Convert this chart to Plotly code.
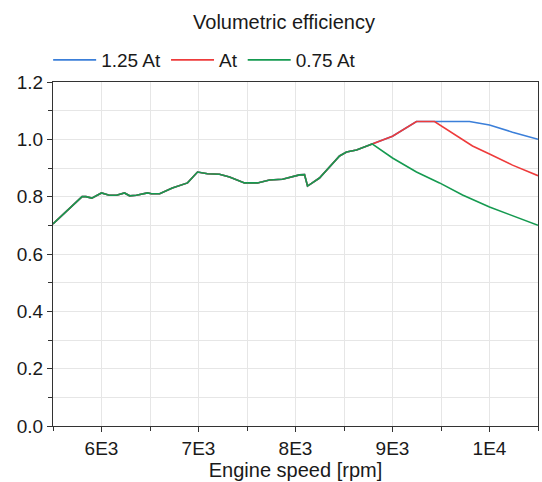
import plotly.graph_objects as go

# Shared part of the curve (all three series coincide here)
rpm_common = [5500, 5800, 5840, 5900, 6000, 6080, 6155, 6237, 6290, 6360, 6474, 6515,
              6600, 6730, 6887, 6990, 7093, 7216, 7320, 7474, 7608, 7732, 7866,
              7969, 8041, 8093, 8124, 8247, 8454, 8526, 8629, 8763, 8790]
eff_common = [0.705, 0.800, 0.800, 0.795, 0.813, 0.805, 0.805, 0.813, 0.803, 0.805, 0.813, 0.810,
              0.810, 0.830, 0.848, 0.886, 0.880, 0.878, 0.869, 0.848, 0.848, 0.858, 0.861,
              0.869, 0.876, 0.877, 0.837, 0.865, 0.942, 0.956, 0.963, 0.980, 0.984]

# 0.75 At branch after the shared part
rpm_green = [9000, 9247, 9485, 9722, 10000, 10237, 10500]
eff_green = [0.935, 0.886, 0.848, 0.806, 0.764, 0.733, 0.700]

# At branch after the shared part
rpm_red = [9000, 9124, 9247, 9433, 9619, 9825, 10000, 10237, 10500]
eff_red = [1.011, 1.036, 1.062, 1.062, 1.022, 0.977, 0.949, 0.910, 0.873]

# 1.25 At branch (follows At up to its peak)
rpm_blue = [9000, 9124, 9247, 9433, 9794, 10000, 10237, 10500]
eff_blue = [1.011, 1.036, 1.062, 1.062, 1.062, 1.050, 1.025, 1.000]

x_tickvals = [6000, 7000, 8000, 9000, 10000]
x_ticktext = ["6E3", "7E3", "8E3", "9E3", "1E4"]

fig = go.Figure()
fig.add_trace(go.Scatter(x=rpm_common + rpm_blue, y=eff_common + eff_blue, mode="lines",
                         name="1.25 At", line=dict(color="#3b7fd9", width=1.6)))
fig.add_trace(go.Scatter(x=rpm_common + rpm_red, y=eff_common + eff_red, mode="lines",
                         name="At", line=dict(color="#ee3b3b", width=1.6)))
fig.add_trace(go.Scatter(x=rpm_common + rpm_green, y=eff_common + eff_green, mode="lines",
                         name="0.75 At", line=dict(color="#159a50", width=1.6)))

font = "Liberation Sans, Arial, sans-serif"
fig.update_layout(
    width=542, height=482,
    paper_bgcolor="white", plot_bgcolor="white",
    margin=dict(l=53, r=4, t=82, b=56),
    font=dict(family=font, size=19, color="#1a1a1a"),
    title=dict(text="Volumetric efficiency", x=0.524, xanchor="center", y=0.954, yanchor="middle",
               font=dict(size=20, color="#1a1a1a")),
    legend=dict(orientation="h", x=-0.01, xanchor="left", y=1.064, yanchor="middle",
                font=dict(size=19), bgcolor="rgba(0,0,0,0)", traceorder="normal",
                itemwidth=43),
    showlegend=True,
)
fig.update_xaxes(
    range=[5500, 10500], tickvals=x_tickvals, ticktext=x_ticktext,
    showline=True, linecolor="#333", linewidth=1, mirror=True,
    ticks="outside", ticklen=5, tickcolor="#333",
    showgrid=True, gridcolor="#e6e6e6",
    minor=dict(dtick=500, tick0=5500, ticks="outside", ticklen=4, tickcolor="#333",
               showgrid=True, gridcolor="#e6e6e6"),
    title=dict(text="Engine speed [rpm]", font=dict(size=20), standoff=2),
    zeroline=False,
)
fig.update_yaxes(
    range=[0, 1.2], dtick=0.2, tick0=0, tickformat=".1f",
    showline=True, linecolor="#333", linewidth=1, mirror=True,
    ticks="outside", ticklen=5, tickcolor="#333",
    showgrid=True, gridcolor="#e6e6e6",
    minor=dict(dtick=0.1, ticks="outside", ticklen=4, tickcolor="#333",
               showgrid=True, gridcolor="#e6e6e6"),
    zeroline=False,
)

fig.write_html("out.html", config={"displayModeBar": False},
               post_script="document.body.style.margin='0';document.body.style.overflow='hidden';")
